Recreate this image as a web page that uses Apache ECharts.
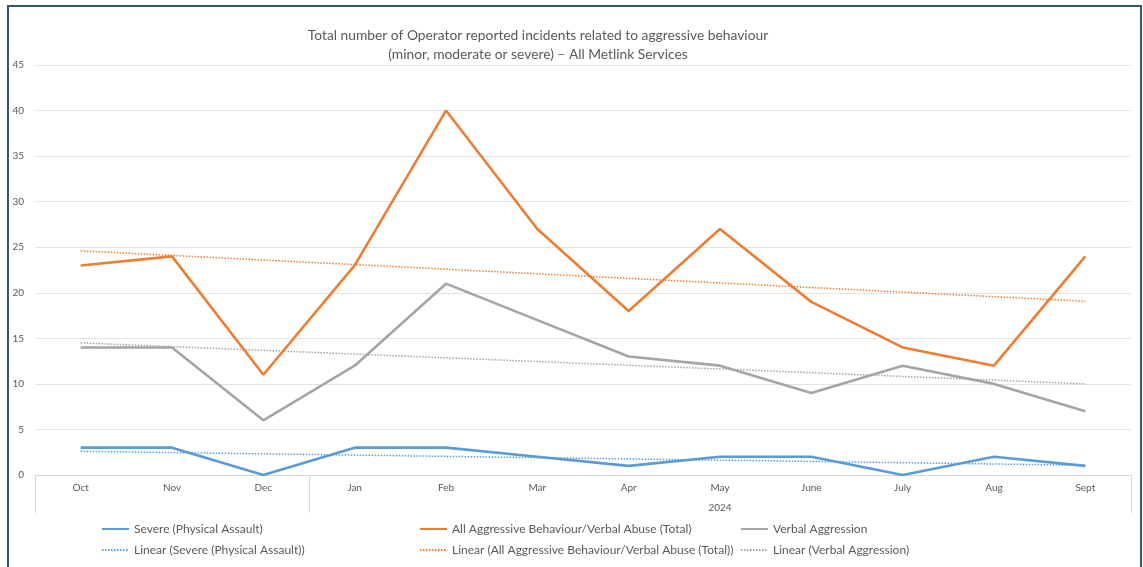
<!DOCTYPE html>
<html>
<head>
<meta charset="utf-8">
<title>Operator reported incidents – aggressive behaviour</title>
<script src="https://cdn.jsdelivr.net/npm/echarts@6/dist/echarts.min.js"></script>
<style>
  html, body { margin: 0; padding: 0; background: #ffffff; }
  #chart { width: 1143px; height: 567px; }
</style>
</head>
<body>
<div id="chart"></div>
<script>
// Months covered (Oct 2023 – Sept 2024)
const months = ['Oct', 'Nov', 'Dec', 'Jan', 'Feb', 'Mar', 'Apr', 'May', 'June', 'July', 'Aug', 'Sept'];
const yearLabel = '2024';

// Monthly incident counts
const severe = [3, 3, 0, 3, 3, 2, 1, 2, 2, 0, 2, 1];
const totalAbuse = [23, 24, 11, 23, 40, 27, 18, 27, 19, 14, 12, 24];
const verbal = [14, 14, 6, 12, 21, 17, 13, 12, 9, 12, 10, 7];

// Linear trend line end values (first month, last month)
const severeTrend = [2.6, 1.07];
const totalTrend = [24.6, 19.07];
const verbalTrend = [14.5, 10.0];

const yTicks = { min: 0, max: 45, interval: 5 };

const COLORS = { severe: '#5b9bd5', total: '#ed7d31', verbal: '#a5a5a5' };
const TEXT = '#595959';
const FONT = 'Lato, "Open Sans", sans-serif';

// Trend series: only the two ends are set, joined across the gap
function trendData(ends) {
  return months.map((m, i) => i === 0 ? ends[0] : (i === months.length - 1 ? ends[1] : null));
}

function solid(name, data, color) {
  return {
    name, type: 'line', data, symbol: 'none', z: 3,
    lineStyle: { color, width: 2.6 }, itemStyle: { color }
  };
}
function trend(name, ends, color) {
  return {
    name, type: 'line', data: trendData(ends), connectNulls: true, symbol: 'none', z: 2,
    lineStyle: { color, width: 1.5, type: [1.5, 1.5] }, itemStyle: { color }
  };
}

// Legend: line samples only, no point markers
const legendBase = {
  orient: 'vertical', top: 523, padding: 0, itemGap: 9, itemWidth: 27, itemHeight: 14,
  itemStyle: { opacity: 0 },
  textStyle: { color: TEXT, fontSize: 12, fontFamily: FONT }, selectedMode: false
};

const chart = echarts.init(document.getElementById('chart'), null, { renderer: 'canvas' });
chart.setOption({
  backgroundColor: '#ffffff',
  animation: false,
  title: {
    text: 'Total number of Operator reported incidents related to aggressive behaviour\n(minor, moderate or severe) – All Metlink Services',
    left: 533, top: 21, textAlign: 'center',
    textStyle: { color: TEXT, fontSize: 13.8, fontWeight: 'normal', fontFamily: FONT, lineHeight: 19 }
  },
  legend: [
    Object.assign({}, legendBase, { left: 101, data: ['Severe (Physical Assault)', 'Linear (Severe (Physical Assault))'] }),
    Object.assign({}, legendBase, { left: 419, data: ['All Aggressive Behaviour/Verbal Abuse (Total)', 'Linear (All Aggressive Behaviour/Verbal Abuse (Total))'] }),
    Object.assign({}, legendBase, { left: 740, data: ['Verbal Aggression', 'Linear (Verbal Aggression)'] })
  ],
  grid: { left: 35, right: 12, top: 65, bottom: 92, containLabel: false },
  xAxis: [
    {
      type: 'category', data: months, boundaryGap: true, position: 'bottom',
      axisLine: { lineStyle: { color: '#d9d9d9', width: 1 } },
      axisTick: { show: false },
      axisLabel: { color: TEXT, fontSize: 10, fontFamily: FONT, margin: 8 }
    },
    {
      // Year grouping row beneath the months
      type: 'value', min: 0, max: months.length, position: 'bottom',
      axisLine: { show: false },
      splitLine: { show: false },
      axisTick: { show: true, length: 38, customValues: [0, 3, months.length], lineStyle: { color: '#d9d9d9' } },
      axisLabel: { show: true, customValues: [(3 + months.length) / 2], formatter: () => yearLabel,
        color: TEXT, fontSize: 10, fontFamily: FONT, margin: 28 }
    }
  ],
  yAxis: {
    type: 'value', min: yTicks.min, max: yTicks.max, interval: yTicks.interval,
    axisLine: { show: false }, axisTick: { show: false },
    splitLine: { lineStyle: { color: '#e3e3e3', width: 1 } },
    axisLabel: { color: TEXT, fontSize: 10, fontFamily: FONT, margin: 11 }
  },
  series: [
    solid('Severe (Physical Assault)', severe, COLORS.severe),
    solid('All Aggressive Behaviour/Verbal Abuse (Total)', totalAbuse, COLORS.total),
    solid('Verbal Aggression', verbal, COLORS.verbal),
    trend('Linear (Severe (Physical Assault))', severeTrend, COLORS.severe),
    trend('Linear (All Aggressive Behaviour/Verbal Abuse (Total))', totalTrend, COLORS.total),
    trend('Linear (Verbal Aggression)', verbalTrend, COLORS.verbal)
  ],
  graphic: [{
    type: 'rect', silent: true, z: 100,
    shape: { x: 8, y: 6, width: 1133, height: 600 },
    style: { fill: 'none', stroke: '#2e5c68', lineWidth: 2 }
  }]
});
</script>
</body>
</html>
